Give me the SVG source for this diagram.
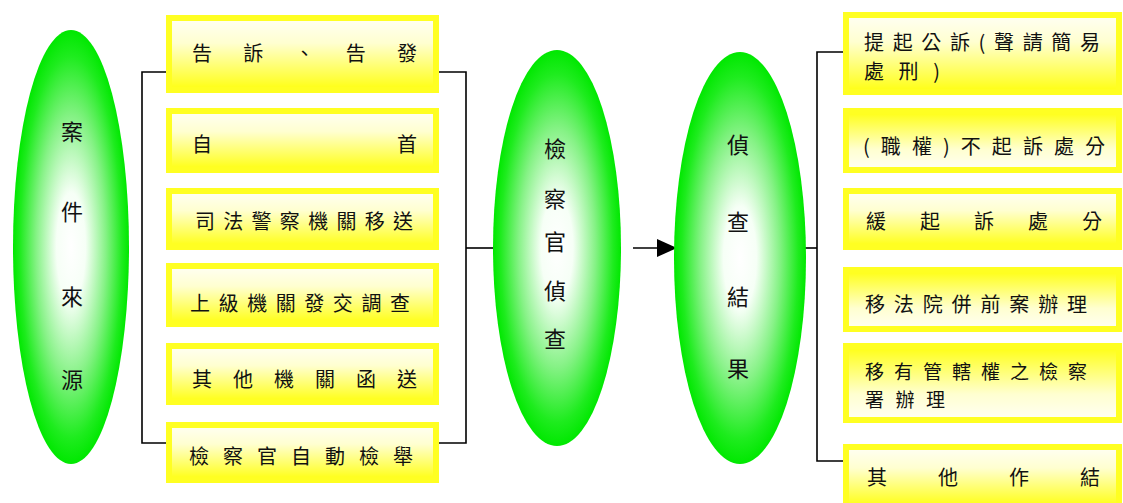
<svg xmlns="http://www.w3.org/2000/svg" width="1123" height="503" viewBox="0 0 1123 503">
<defs>
<radialGradient id="gEll" cx="0.5" cy="0.5" r="0.5">
<stop offset="0" stop-color="#ffffff"/>
<stop offset="0.25" stop-color="#f6fff6"/>
<stop offset="0.6" stop-color="#86f286"/>
<stop offset="0.88" stop-color="#1eec1e"/>
<stop offset="1" stop-color="#00e800"/>
</radialGradient>
<linearGradient id="gDown" x1="0" y1="0" x2="0" y2="1">
<stop offset="0" stop-color="#fffff4"/>
<stop offset="0.35" stop-color="#ffffd0"/>
<stop offset="1" stop-color="#ffff10"/>
</linearGradient>
<linearGradient id="gUp" x1="0" y1="1" x2="0" y2="0">
<stop offset="0" stop-color="#fffff4"/>
<stop offset="0.35" stop-color="#ffffd0"/>
<stop offset="1" stop-color="#ffff10"/>
</linearGradient>
<marker id="arrow" markerUnits="userSpaceOnUse" markerWidth="22" markerHeight="20" refX="20" refY="10" orient="auto">
<path d="M0 1 L20 10 L0 19 Z" fill="#000"/>
</marker>
</defs>
<style>
.ell{fill:url(#gEll);}
.box{stroke:#ffff22;stroke-width:6;}
.down{fill:url(#gDown);}
.up{fill:url(#gUp);}
.t{font-family:"Noto Sans CJK TC","Noto Sans CJK SC",sans-serif;font-size:20px;fill:#111;dominant-baseline:central;}
.s{font-size:19px;}
.et{font-family:"Noto Sans CJK TC","Noto Sans CJK SC",sans-serif;font-size:22px;fill:#111;dominant-baseline:central;text-anchor:middle;}
.ln{fill:none;stroke:#000;stroke-width:1.6;}
</style>
<rect width="1123" height="503" fill="#ffffff"/>

<g id="connectors">
<path class="ln" d="M167 72 H142 V443 H167"/>
<path class="ln" d="M439 72 H466 V443 H439"/>
<path class="ln" d="M466 248 H494"/>
<path class="ln" d="M633 248 H677" marker-end="url(#arrow)"/>
<path class="ln" d="M804 248 H817"/>
<path class="ln" d="M843 52 H817 V461 H843"/>
</g>

<g id="node-source">
<ellipse class="ell" cx="71" cy="247" rx="58" ry="217"/>
<text class="et" x="72" y="130">案</text>
<text class="et" x="72" y="210">件</text>
<text class="et" x="72" y="295">來</text>
<text class="et" x="72" y="378">源</text>
</g>

<g id="node-l1"><rect class="box down" x="169" y="18" width="267" height="72"/>
<text class="t" x="192" y="52" textLength="225" lengthAdjust="spacing">告訴、告發</text></g>
<g id="node-l2"><rect class="box down" x="169" y="111" width="267" height="59"/>
<text class="t" x="192" y="143" textLength="225" lengthAdjust="spacing">自首</text></g>
<g id="node-l3"><rect class="box down" x="169" y="191" width="267" height="56"/>
<text class="t" x="195" y="220" textLength="218" lengthAdjust="spacing">司法警察機關移送</text></g>
<g id="node-l4"><rect class="box down" x="169" y="266" width="267" height="58"/>
<text class="t" x="190" y="302" textLength="220" lengthAdjust="spacing">上級機關發交調查</text></g>
<g id="node-l5"><rect class="box down" x="169" y="346" width="267" height="56"/>
<text class="t" x="192" y="378" textLength="225" lengthAdjust="spacing">其他機關函送</text></g>
<g id="node-l6"><rect class="box down" x="169" y="425" width="267" height="55"/>
<text class="t" x="189" y="455" textLength="224" lengthAdjust="spacing">檢察官自動檢舉</text></g>

<g id="node-prosecutor">
<ellipse class="ell" cx="557" cy="248" rx="64" ry="198"/>
<text class="et" x="555" y="147">檢</text>
<text class="et" x="555" y="197">察</text>
<text class="et" x="555" y="240">官</text>
<text class="et" x="555" y="289">偵</text>
<text class="et" x="555" y="337">查</text>
</g>

<g id="node-result">
<ellipse class="ell" cx="740" cy="258" rx="66" ry="206"/>
<text class="et" x="738" y="143">偵</text>
<text class="et" x="738" y="220">查</text>
<text class="et" x="738" y="295">結</text>
<text class="et" x="738" y="367">果</text>
</g>

<g id="node-r1"><rect class="box down" x="846" y="15" width="273" height="77"/>
<text class="t" x="864" y="41" textLength="236" lengthAdjust="spacing">提起公訴(聲請簡易</text>
<text class="t" x="864" y="70" textLength="76" lengthAdjust="spacing">處刑)</text></g>
<g id="node-r2"><rect class="box up" x="846" y="111" width="273" height="59"/>
<text class="t" x="863" y="145" textLength="242" lengthAdjust="spacing">(職權)不起訴處分</text></g>
<g id="node-r3"><rect class="box down" x="846" y="191" width="273" height="56"/>
<text class="t" x="866" y="220" textLength="236" lengthAdjust="spacing">緩起訴處分</text></g>
<g id="node-r4"><rect class="box up" x="846" y="270" width="273" height="59"/>
<text class="t" x="865" y="303" textLength="222" lengthAdjust="spacing">移法院併前案辦理</text></g>
<g id="node-r5"><rect class="box up" x="846" y="346" width="273" height="74"/>
<text class="t s" x="865" y="370" textLength="222" lengthAdjust="spacing">移有管轄權之檢察</text>
<text class="t s" x="865" y="398" textLength="80" lengthAdjust="spacing">署辦理</text></g>
<g id="node-r6"><rect class="box down" x="846" y="447" width="273" height="60"/>
<text class="t" x="867" y="476" textLength="233" lengthAdjust="spacing">其他作結</text></g>
</svg>
